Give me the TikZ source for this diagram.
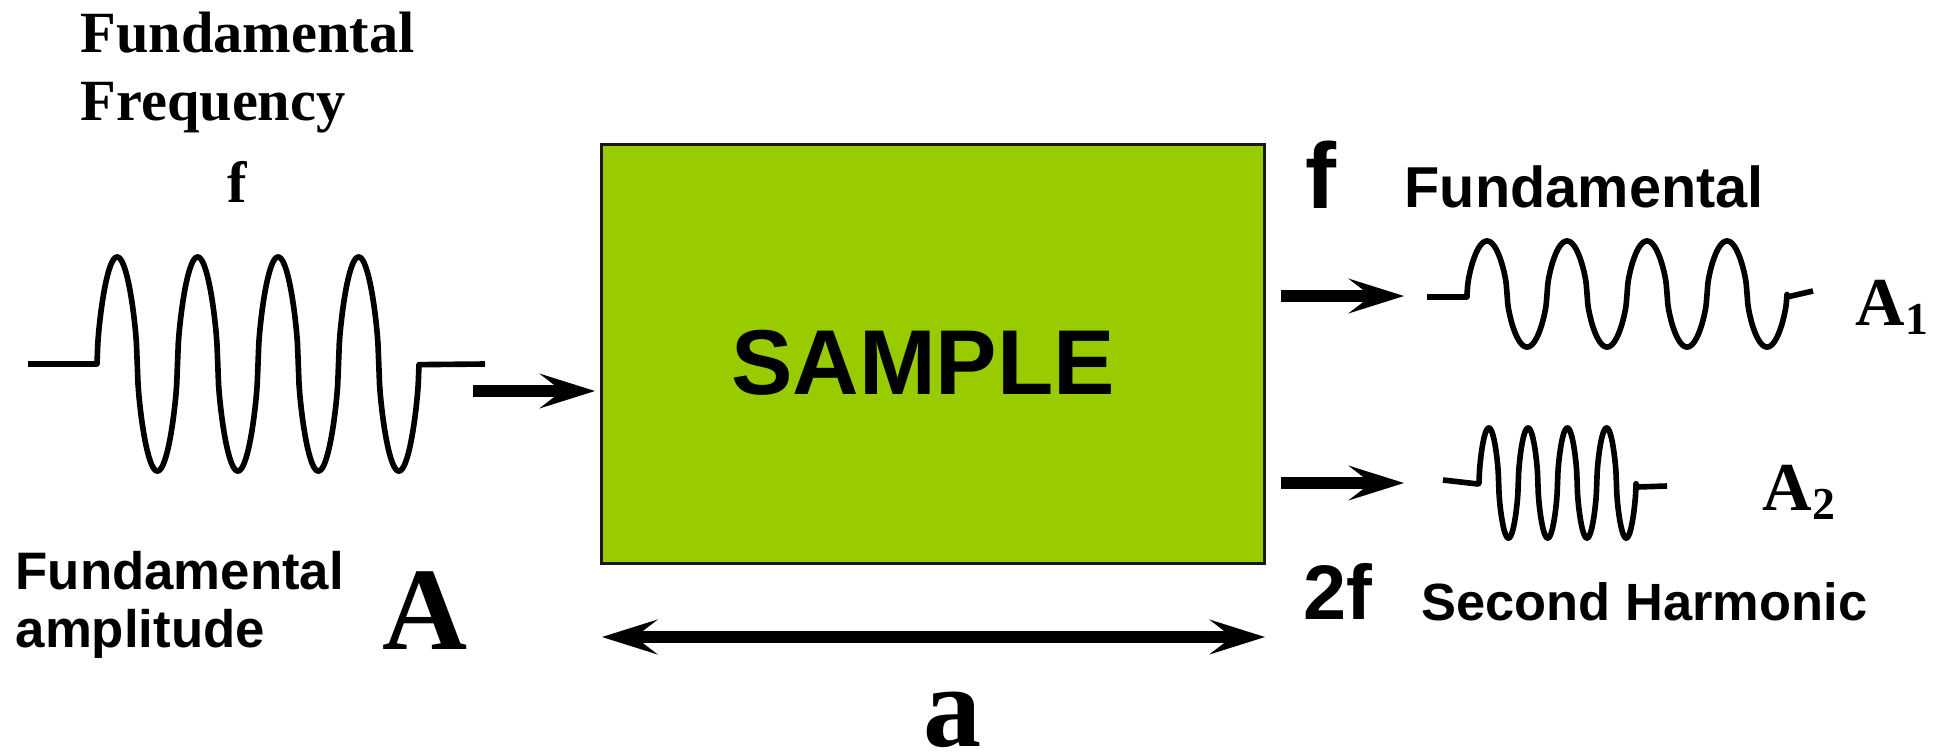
\documentclass[tikz,border=0pt]{standalone}
\usepackage{fontspec}
\setmainfont{Liberation Serif}
\setsansfont{Liberation Sans}
\usetikzlibrary{arrows.meta}
\definecolor{samplegreen}{HTML}{99CC00}
\newcommand\fsz[1]{\fontsize{#1}{#1}\selectfont}
\tikzset{
  declare function={osc(\t)=(sin(\t)>=0 ? 1 : -1)*pow(abs(sin(\t))+0.00001,0.6);},
  wave/.style={line width=1.6pt, line join=round},
  head/.tip={Stealth[length=15.9pt,width=10pt,inset=6.5pt,line width=0pt]},
  fatarrow/.style={line width=3.3pt, -head},
  dimarrow/.style={line width=3.4pt, head-head},
  sanslbl/.style={inner sep=0pt, anchor=base west, font=\sffamily\bfseries},
  seriflbl/.style={inner sep=0pt, anchor=base west, font=\rmfamily\bfseries},
}
\begin{document}
\begin{tikzpicture}[x=0.01cm,y=-0.01cm]
\useasboundingbox (0,0) rectangle (1943,754);

% input signal description
\node[seriflbl] (fundtop) at (80,52) {\fsz{16.6pt}Fundamental};
\node[seriflbl] (freq) at (80,120) {\fsz{16.6pt}Frequency};
\node[inner sep=0pt, anchor=base, font=\rmfamily\bfseries] (fin) at (237,202) {\fsz{16.6pt}f};

% input wave train
\draw[wave] (28,364) -- (97,364) -- plot[domain=97:419,samples=401] (\x,{364-107*osc((\x-97)/80.5*360)}) -- (485,364);

% sample block
\node[draw=black!90, line width=0.85pt, fill=samplegreen, minimum width=6.62cm, minimum height=4.18cm, inner sep=0pt] (block) at (933,354) {};
\node[inner sep=0pt, font=\sffamily\bfseries] (sampletext) at (923,363) {\fsz{26.2pt}SAMPLE};

% arrow into the block
\coordinate (inS) at (473,391);
\coordinate (inE) at (595,391);
\draw[fatarrow] (inS) -- (inE);

% amplitude labels
\node[sanslbl] (fundamp) at (15,589) {\fsz{15pt}Fundamental};
\node[sanslbl] (ampl) at (15,647) {\fsz{15pt}amplitude};
\node[seriflbl] (bigA) at (382,649) {\fsz{33.5pt}A};

% sample length
\coordinate (dimL) at (602,637);
\coordinate (dimR) at (1265,637);
\draw[dimarrow] (dimL) -- (dimR);
\node[inner sep=0pt, anchor=base, font=\rmfamily\bfseries] (alen) at (952,746) {\fsz{33pt}a};

% output arrows
\coordinate (o1S) at (1281,296);
\coordinate (o1E) at (1404,296);
\coordinate (o2S) at (1281,483);
\coordinate (o2E) at (1404,483);
\draw[fatarrow] (o1S) -- (o1E);
\draw[fatarrow] (o2S) -- (o2E);

% fundamental output
\node[sanslbl] (fout) at (1305,208) {\fsz{26.5pt}f};
\node[sanslbl] (fundout) at (1404,207) {\fsz{16.4pt}Fundamental};
\draw[wave] (1427,297) -- (1467,297) -- (1467,294) -- plot[domain=1467:1787,samples=401] (\x,{294-53*osc((\x-1467)/80*360)}) -- (1787,297) -- (1813,291);
\node[seriflbl] (A1) at (1855,325) {\fsz{19.5pt}A\raisebox{-2.8pt}{\fsz{13pt}1}};

% second harmonic output
\draw[wave] (1443,480) -- (1478,484) -- (1479,483) -- plot[domain=1479:1636,samples=401] (\x,{483-55*osc((\x-1479)/39.25*360)}) -- (1637,487) -- (1667,486);
\node[seriflbl] (A2) at (1762,510) {\fsz{19.5pt}A\raisebox{-2.8pt}{\fsz{13pt}2}};
\node[sanslbl] (twof) at (1303,619) {\fsz{22pt}2f};
\node[sanslbl] (second) at (1421,620) {\fsz{14.9pt}Second Harmonic};
\end{tikzpicture}
\end{document}
